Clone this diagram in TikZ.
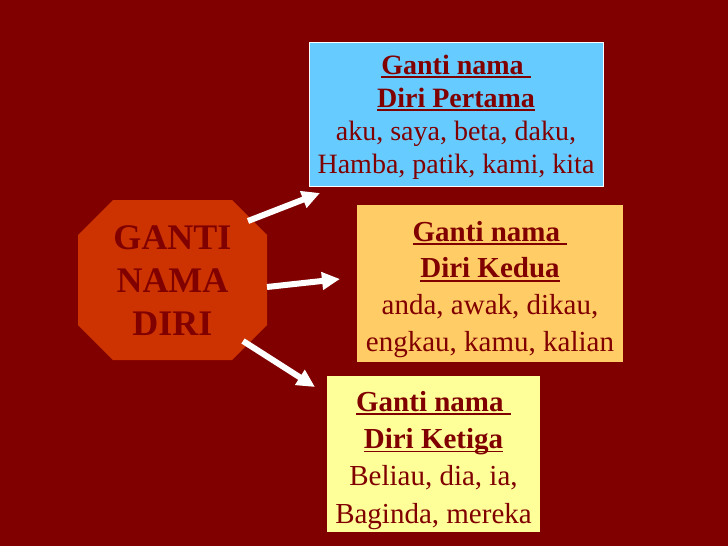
\documentclass[tikz,border=0pt]{standalone}
\usepackage{fontspec}
\setmainfont{Liberation Serif}
\usetikzlibrary{arrows.meta,positioning}
\definecolor{latar}{HTML}{800000}
\definecolor{oktagon}{HTML}{CC3300}
\definecolor{biru}{HTML}{66CCFF}
\definecolor{jingga}{HTML}{FFCC66}
\definecolor{kuning}{HTML}{FFFF99}
\newcommand{\garis}[1]{\setbox0\hbox{\bfseries #1}\rlap{\rule[-0.14em]{\wd0}{0.06em}}\box0}
\begin{document}
\begin{tikzpicture}[x=1pt,y=-1pt,>={Triangle[length=18pt,width=17pt]},
	kotak/.style={inner sep=0pt},
	teks/.style={text=latar,align=center,inner sep=0pt,anchor=north},
	panah/.style={->,white,line width=6pt}]
			\fill[latar](0,0)rectangle(728,546);
			\fill[oktagon](113,200)--(232,200)--(267,235)--(267,325)--(232,360)--(113,360)--(78,325)--(78,235)--cycle;
			\node[teks,anchor=center,font=\fontsize{36}{43}\selectfont\bfseries](diri)at(172.5,281){GANTI\\NAMA\\DIRI};
			\node[kotak,fill=biru,draw=white,line width=1pt,minimum width=294pt,minimum height=144pt](pertama)at(456,114){};
			\node[kotak,fill=jingga,minimum width=266pt,minimum height=157pt](kedua)at(490,283.5){};
			\node[kotak,fill=kuning,minimum width=213pt,minimum height=156pt](ketiga)at(433.5,454){};
			\node[teks,below=13pt of pertama.north,font=\fontsize{28}{33}\selectfont](t1){\garis{Ganti nama\ }\\\garis{Diri Pertama}\\aku, saya, beta, daku,\\Hamba, patik, kami, kita};
			\node[teks,below=16pt of kedua.north,font=\fontsize{29}{36.7}\selectfont](t2){\garis{Ganti nama\ }\\\garis{Diri Kedua}\\anda, awak, dikau,\\engkau, kamu, kalian};
			\node[teks,below=15pt of ketiga.north,font=\fontsize{29}{37.3}\selectfont](t3){\garis{Ganti nama\ }\\\garis{Diri Ketiga}\\Beliau, dia, ia,\\Baginda, mereka};
			\coordinate(p1)at(248,221);
			\coordinate(p2)at(267,287);
			\coordinate(p3)at(243,341);
			\coordinate(u1)at(320,193);
			\coordinate(u2)at(340,279);
			\coordinate(u3)at(315,387);
			\draw[panah](p1)--(u1);
			\draw[panah](p2)--(u2);
			\draw[panah](p3)--(u3);
		\end{tikzpicture}
\end{document}
